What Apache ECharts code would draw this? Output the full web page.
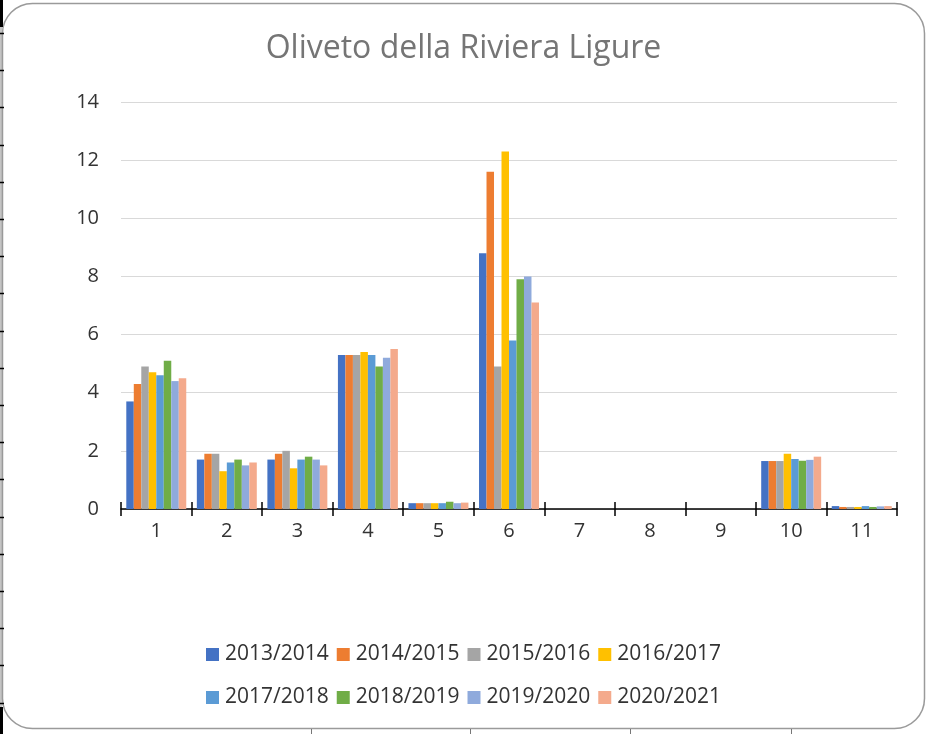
<!DOCTYPE html>
<html>
<head>
<meta charset="utf-8">
<script src="https://cdn.jsdelivr.net/npm/echarts@6/dist/echarts.min.js"></script>
<style>
  html, body { margin: 0; padding: 0; background: #fff; }
  #main { width: 927px; height: 734px; }
</style>
</head>
<body>
<div id="main"></div>
<script>
var categories = ['1', '2', '3', '4', '5', '6', '7', '8', '9', '10', '11'];
var seasons = ['2013/2014', '2014/2015', '2015/2016', '2016/2017', '2017/2018', '2018/2019', '2019/2020', '2020/2021'];
var colors = ['#4472C4', '#ED7D31', '#A5A5A5', '#FFC000', '#5B9BD5', '#70AD47', '#8FAADC', '#F4AA8C'];

var s2013 = [3.7, 1.7, 1.7, 5.3, 0.2, 8.8, 0, 0, 0, 1.65, 0.1];
var s2014 = [4.3, 1.9, 1.9, 5.3, 0.2, 11.6, 0, 0, 0, 1.65, 0.07];
var s2015 = [4.9, 1.9, 2.0, 5.3, 0.2, 4.9, 0, 0, 0, 1.65, 0.07];
var s2016 = [4.7, 1.3, 1.4, 5.4, 0.2, 12.3, 0, 0, 0, 1.9, 0.07];
var s2017 = [4.6, 1.6, 1.7, 5.3, 0.2, 5.8, 0, 0, 0, 1.72, 0.1];
var s2018 = [5.1, 1.7, 1.8, 4.9, 0.25, 7.9, 0, 0, 0, 1.66, 0.07];
var s2019 = [4.4, 1.5, 1.7, 5.2, 0.2, 8.0, 0, 0, 0, 1.69, 0.09];
var s2020 = [4.5, 1.6, 1.5, 5.5, 0.22, 7.1, 0, 0, 0, 1.8, 0.1];
var seriesData = [s2013, s2014, s2015, s2016, s2017, s2018, s2019, s2020];

var chart = echarts.init(document.getElementById('main'));

var series = seasons.map(function (name, i) {
    return {
        name: name,
        type: 'bar',
        data: seriesData[i],
        barGap: '0%',
        barCategoryGap: '15%',
        itemStyle: { color: colors[i] },
        animation: false
    };
});

var legendText = { fontFamily: 'Open Sans', fontSize: 21, color: '#333', padding: [0, 0, 0, 1] };

// frame and the sheet's cell marks round it
var frame = [{
    type: 'rect',
    shape: { x: 2.5, y: 3.5, width: 922, height: 725, r: 30 },
    style: { fill: 'none', stroke: '#9a9a9a', lineWidth: 1.5 },
    silent: true
}, {
    type: 'rect', shape: { x: 0, y: 0, width: 3, height: 27 }, style: { fill: '#000' }, silent: true
}, {
    type: 'rect', shape: { x: 0, y: 707, width: 3, height: 27 }, style: { fill: '#000' }, silent: true
}, {
    type: 'line', shape: { x1: 1, y1: 27, x2: 1, y2: 707 }, style: { stroke: '#888', lineWidth: 1 }, silent: true
}];
for (var k = 0; k < 19; k++) {
    var yy = Math.round(33 + k * 37.2) + 0.5;
    frame.push({ type: 'line', shape: { x1: 0, y1: yy, x2: 4, y2: yy }, style: { stroke: '#000', lineWidth: 1.5 }, silent: true });
}
[311, 470, 630, 791].forEach(function (xx) {
    frame.push({ type: 'line', shape: { x1: xx + 0.5, y1: 729, x2: xx + 0.5, y2: 734 }, style: { stroke: '#777', lineWidth: 1 }, silent: true });
});

chart.setOption({
    backgroundColor: '#fff',
    title: {
        text: 'Oliveto della Riviera Ligure',
        left: 'center',
        top: 28,
        textStyle: { fontFamily: 'Open Sans', fontSize: 32, fontWeight: 'normal', color: '#757575' }
    },
    legend: [{
        data: seasons.slice(0, 4),
        top: 639,
        left: 'center',
        itemWidth: 13,
        itemHeight: 13,
        itemGap: 8,
        icon: 'rect',
        textStyle: legendText
    }, {
        data: seasons.slice(4),
        top: 682,
        left: 'center',
        itemWidth: 13,
        itemHeight: 13,
        itemGap: 8,
        icon: 'rect',
        textStyle: legendText
    }],
    grid: { left: 121, right: 30, top: 102, bottom: 225 },
    xAxis: [{
        type: 'category',
        data: categories,
        axisLine: { lineStyle: { color: '#000', width: 1.5 } },
        axisTick: { show: true, length: 7, lineStyle: { color: '#000', width: 1.5 } },
        axisLabel: { fontFamily: 'Open Sans', fontSize: 20, color: '#333', margin: 12 }
    }, {
        type: 'category',
        data: categories,
        position: 'bottom',
        axisLine: { show: false },
        axisTick: { show: true, inside: true, length: 7, lineStyle: { color: '#000', width: 1.5 } },
        axisLabel: { show: false }
    }],
    yAxis: {
        type: 'value',
        min: 0,
        max: 14,
        interval: 2,
        axisLine: { show: false },
        axisTick: { show: false },
        splitLine: { lineStyle: { color: '#d9d9d9', width: 1 } },
        axisLabel: { fontFamily: 'Open Sans', fontSize: 20, color: '#333', margin: 22 }
    },
    graphic: frame,
    series: series
});
</script>
</body>
</html>
